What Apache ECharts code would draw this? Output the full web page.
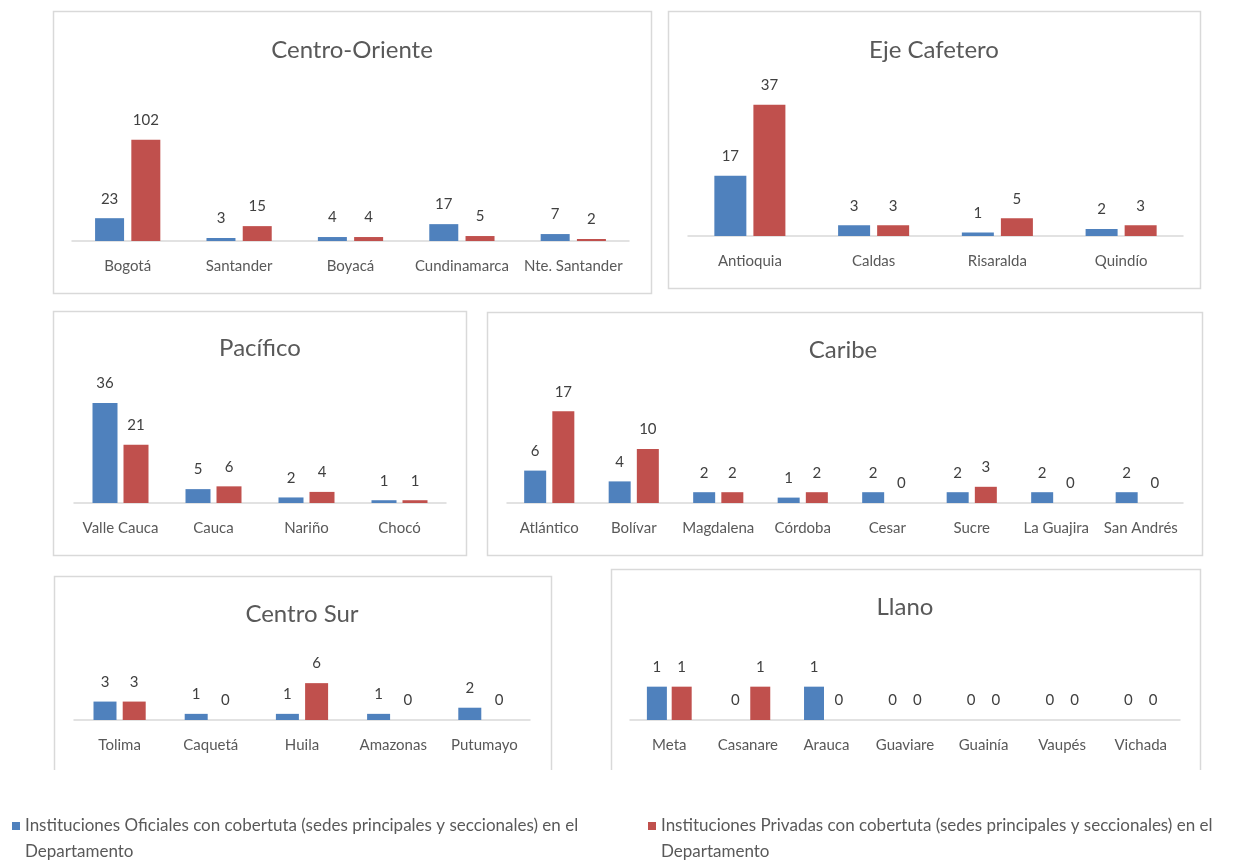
<!DOCTYPE html>
<html>
<head>
<meta charset="utf-8">
<title>Instituciones por región</title>
<script src="https://cdn.jsdelivr.net/npm/echarts@6/dist/echarts.min.js"></script>
<style>
  html, body { margin: 0; padding: 0; background: #ffffff; }
  #chart { width: 1252px; height: 863px; }
</style>
</head>
<body>
<div id="chart"></div>
<script>
// Series names
const nombreOficiales = 'Instituciones Oficiales con cobertuta (sedes principales y seccionales) en el Departamento';
const nombrePrivadas = 'Instituciones Privadas con cobertuta (sedes principales y seccionales) en el Departamento';

// Region titles
const regiones = ['Centro-Oriente', 'Eje Cafetero', 'Pacífico', 'Caribe', 'Centro Sur', 'Llano'];

// Centro-Oriente
const centroOrienteCats = ['Bogotá', 'Santander', 'Boyacá', 'Cundinamarca', 'Nte. Santander'];
const centroOrienteOficiales = [23, 3, 4, 17, 7];
const centroOrientePrivadas = [102, 15, 4, 5, 2];

// Eje Cafetero
const ejeCafeteroCats = ['Antioquia', 'Caldas', 'Risaralda', 'Quindío'];
const ejeCafeteroOficiales = [17, 3, 1, 2];
const ejeCafeteroPrivadas = [37, 3, 5, 3];

// Pacífico
const pacificoCats = ['Valle Cauca', 'Cauca', 'Nariño', 'Chocó'];
const pacificoOficiales = [36, 5, 2, 1];
const pacificoPrivadas = [21, 6, 4, 1];

// Caribe
const caribeCats = ['Atlántico', 'Bolívar', 'Magdalena', 'Córdoba', 'Cesar', 'Sucre', 'La Guajira', 'San Andrés'];
const caribeOficiales = [6, 4, 2, 1, 2, 2, 2, 2];
const caribePrivadas = [17, 10, 2, 2, 0, 3, 0, 0];

// Centro Sur
const centroSurCats = ['Tolima', 'Caquetá', 'Huila', 'Amazonas', 'Putumayo'];
const centroSurOficiales = [3, 1, 1, 1, 2];
const centroSurPrivadas = [3, 0, 6, 0, 0];

// Llano
const llanoCats = ['Meta', 'Casanare', 'Arauca', 'Guaviare', 'Guainía', 'Vaupés', 'Vichada'];
const llanoOficiales = [1, 0, 1, 0, 0, 0, 0];
const llanoPrivadas = [1, 1, 0, 0, 0, 0, 0];

const datosRegion = [
  [centroOrienteCats, centroOrienteOficiales, centroOrientePrivadas],
  [ejeCafeteroCats, ejeCafeteroOficiales, ejeCafeteroPrivadas],
  [pacificoCats, pacificoOficiales, pacificoPrivadas],
  [caribeCats, caribeOficiales, caribePrivadas],
  [centroSurCats, centroSurOficiales, centroSurPrivadas],
  [llanoCats, llanoOficiales, llanoPrivadas]
];

// Panel layout: frame box, title centre, plot area, value-axis max, bar sizing
const paneles = [
  { box: [53, 11, 651, 293], open: false, title: [352, 38], grid: [72, 122, 557, 119], max: 120, bw: 29, gap: '25%' },
  { box: [668, 11, 1200, 288], open: false, title: [934, 38], grid: [688, 94, 495, 142], max: 40, bw: 32, gap: '22%' },
  { box: [53, 311, 466, 555], open: false, title: [260, 336], grid: [74, 392, 372, 111], max: 40, bw: 25, gap: '24%' },
  { box: [487, 312, 1202, 555], open: false, title: [843, 338], grid: [507, 395, 676, 108], max: 20, bw: 22, gap: '28%' },
  { box: [54, 576, 551, 770], open: true, title: [302, 602], grid: [74, 677, 456, 43], max: 7, bw: 23, gap: '27%' },
  { box: [611, 569, 1200, 770], open: true, title: [905, 595], grid: [630, 680, 550, 40], max: 1.2, bw: 20, gap: '24%' }
];

const AZUL = '#4F81BD';
const ROJO = '#C0504D';
const FUENTE = 'Lato, "Liberation Sans", sans-serif';

const titles = [], grids = [], xAxes = [], yAxes = [], series = [], graphics = [];

paneles.forEach((p, i) => {
  const [cats, ofi, pri] = datosRegion[i];
  const [x1, y1, x2, y2] = p.box;

  // frame around the panel
  if (p.open) {
    graphics.push({
      type: 'polyline', silent: true,
      shape: { points: [[x1 + 0.5, y2], [x1 + 0.5, y1 + 0.5], [x2 + 0.5, y1 + 0.5], [x2 + 0.5, y2]] },
      style: { stroke: '#D9D9D9', lineWidth: 1.5, fill: null }
    });
  } else {
    graphics.push({
      type: 'rect', silent: true,
      shape: { x: x1 + 0.5, y: y1 + 0.5, width: x2 - x1, height: y2 - y1 },
      style: { stroke: '#D9D9D9', lineWidth: 1.5, fill: null }
    });
  }

  titles.push({
    text: regiones[i],
    left: p.title[0], top: p.title[1],
    textAlign: 'center', padding: 0,
    textStyle: { fontFamily: FUENTE, fontSize: 24, fontWeight: 'normal', color: '#595959' }
  });

  grids.push({ left: p.grid[0], top: p.grid[1], width: p.grid[2], height: p.grid[3], containLabel: false });

  xAxes.push({
    type: 'category', gridIndex: i, data: cats,
    axisLine: { show: true, lineStyle: { color: '#D9D9D9', width: 1.5 } },
    axisTick: { show: false },
    axisLabel: { interval: 0, margin: 18, fontFamily: FUENTE, fontSize: 15, color: '#595959' }
  });

  yAxes.push({
    type: 'value', gridIndex: i, min: 0, max: p.max,
    show: false, splitLine: { show: false }
  });

  const etiqueta = {
    show: true, position: 'top', distance: 12,
    fontFamily: FUENTE, fontSize: 15, color: '#404040'
  };

  series.push({
    type: 'bar', name: nombreOficiales, xAxisIndex: i, yAxisIndex: i,
    data: ofi, barWidth: p.bw, barGap: p.gap,
    itemStyle: { color: AZUL }, label: etiqueta,
    emphasis: { disabled: true }
  });
  series.push({
    type: 'bar', name: nombrePrivadas, xAxisIndex: i, yAxisIndex: i,
    data: pri, barWidth: p.bw, barGap: p.gap,
    itemStyle: { color: ROJO }, label: etiqueta,
    emphasis: { disabled: true }
  });
});

// Legend text wraps before "Departamento"; a leading empty line keeps the swatch beside the first line
const textoLeyenda = {
  fontFamily: FUENTE, fontSize: 17, color: '#595959', lineHeight: 26
};
const formatoLeyenda = name => '\n' + name.replace(' Departamento', '\nDepartamento');

const chart = echarts.init(document.getElementById('chart'), null, { renderer: 'canvas' });
chart.setOption({
  animation: false,
  backgroundColor: '#ffffff',
  title: titles,
  grid: grids,
  xAxis: xAxes,
  yAxis: yAxes,
  series: series,
  legend: [
    {
      data: [nombreOficiales], left: 12, top: 787, padding: 0,
      icon: 'rect', itemWidth: 8, itemHeight: 8, selectedMode: false,
      formatter: formatoLeyenda, textStyle: textoLeyenda
    },
    {
      data: [nombrePrivadas], left: 648, top: 787, padding: 0,
      icon: 'rect', itemWidth: 8, itemHeight: 8, selectedMode: false,
      formatter: formatoLeyenda, textStyle: textoLeyenda
    }
  ],
  graphic: graphics
});
</script>
</body>
</html>
